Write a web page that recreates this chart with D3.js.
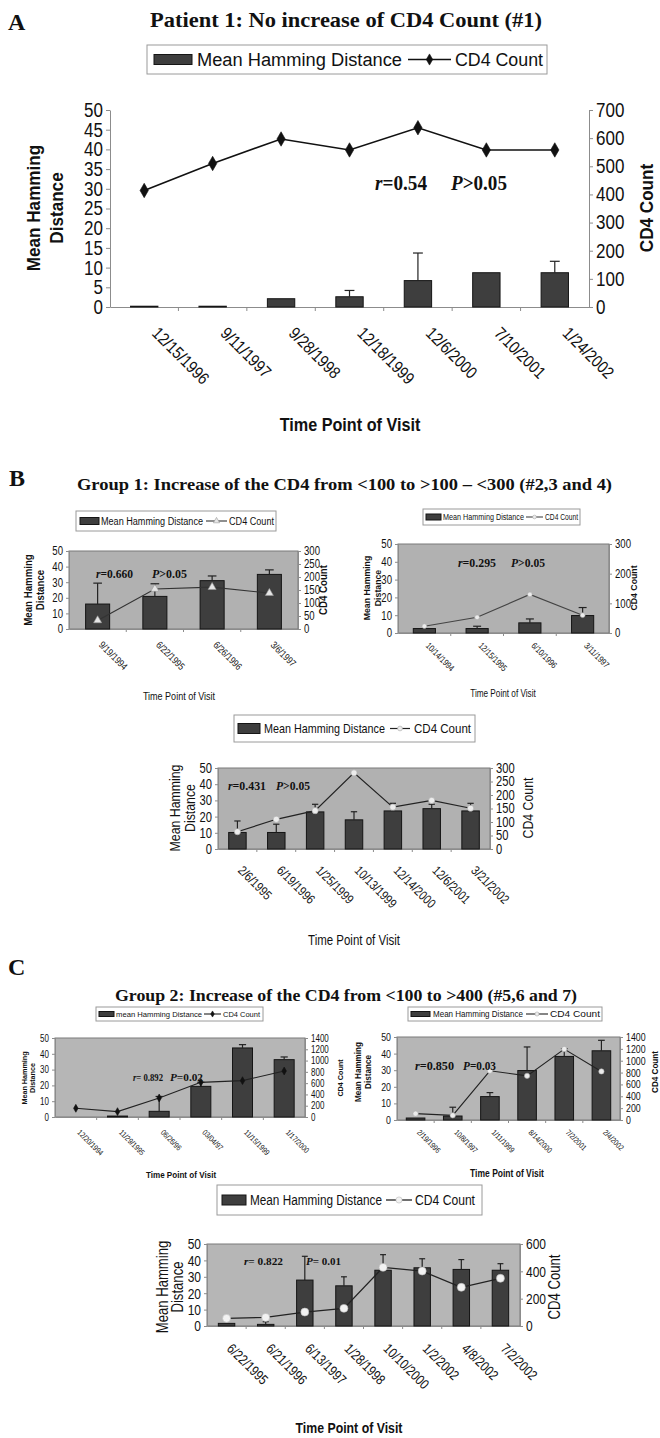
<!DOCTYPE html>
<html>
<head>
<meta charset="utf-8">
<script src="https://cdn.jsdelivr.net/npm/d3@7"></script>
<style>
  body { margin: 0; background: #fff; }
  svg { display: block; }
</style>
</head>
<body>
<svg id="fig" width="660" height="1438"></svg>
<script>
// ---- data ----
// A: patient 1
const datesA = ['12/15/1996', '9/11/1997', '9/28/1998', '12/18/1999', '12/6/2000', '7/10/2001', '1/24/2002'];
const hdA = [0.2, 0.2, 2.1, 2.6, 6.7, 8.7, 8.7];
const errA = [0, 0, 0, 1.6, 7.0, 0, 2.9];
const cd4A = [414, 510, 597, 558, 637, 558, 558];

// B: group 1 (patients 2, 3, 4)
const datesB1 = ['9/19/1994', '6/22/1995', '6/26/1996', '3/6/1997'];
const hdB1 = [16, 20.9, 31, 35];
const errB1 = [13.4, 8.1, 3, 2.9];
const cd4B1 = [33, 154, 161, 138];

const datesB2 = ['10/14/1994', '12/15/1995', '6/10/1996', '3/11/1997'];
const hdB2 = [2.5, 2.5, 5.7, 9.8];
const errB2 = [0, 1.3, 2.2, 4.5];
const cd4B2 = [23, 53, 130, 60];

const datesB3 = ['2/6/1995', '6/19/1996', '1/25/1999', '10/13/1999', '12/14/2000', '12/6/2001', '3/21/2002'];
const hdB3 = [10.2, 10.2, 22.9, 18, 23.5, 24.9, 23.5];
const errB3 = [7.1, 5.1, 4.7, 5, 4.7, 2.7, 4.7];
const cd4B3 = [64, 110, 142, 282, 155, 180, 151];

// C: group 2 (patients 5, 6, 7)
const datesC1 = ['12/20/1994', '11/29/1995', '06/26/96', '03/04/97', '11/15/1999', '1/17/2000'];
const hdC1 = [0, 0.6, 3.6, 19.4, 43.7, 36.3];
const errC1 = [0, 0, 9.4, 2.6, 2.1, 1.7];
const cd4C1 = [154, 95, 337, 614, 644, 815];

const datesC2 = ['2/19/1996', '10/8/1997', '1/11/1999', '8/14/2000', '7/2/2001', '2/4/2002'];
const hdC2 = [1.2, 2.4, 14.1, 29.8, 38.3, 41.7];
const errC2 = [0, 5.3, 2.4, 14.2, 4.7, 6.3];
const cd4C2 = [107, 79, 830, 745, 1197, 819];

const datesC3 = ['6/22/1995', '6/21/1996', '6/13/1997', '1/28/1998', '10/10/2000', '1/2/2002', '4/8/2002', '7/2/2002'];
const hdC3 = [1.6, 1.0, 28, 24.5, 34, 35.5, 34.5, 34];
const errC3 = [0, 1.6, 14.5, 5.5, 9.5, 5.5, 6, 4];
const cd4C3 = [56, 63, 102, 129, 429, 402, 283, 349];

// ---- drawing ----
const SERIF = '"Liberation Serif", "Times New Roman", serif';
const SANS = '"Liberation Sans", Arial, sans-serif';

const svg = d3.select('#fig');

// narrow the text the way Arial Narrow would look
function squeeze(sel, k) {
    sel.each(function () {
        const w = this.getComputedTextLength();
        if (w > 0) d3.select(this).attr('textLength', w * k).attr('lengthAdjust', 'spacingAndGlyphs');
    });
    return sel;
}
function fit(sel, w) {
    return sel.attr('textLength', w).attr('lengthAdjust', 'spacingAndGlyphs');
}

function label(x, y, txt, size, anchor) {
    return svg.append('text')
        .attr('x', x).attr('y', y)
        .attr('font-family', SERIF).attr('font-size', size).attr('font-weight', 'bold')
        .attr('text-anchor', anchor || 'start').attr('fill', '#111')
        .text(txt);
}

function markerPath(shape, size) {
    const t = shape === 'diamond' ? d3.symbolDiamond : shape === 'triangle' ? d3.symbolTriangle : d3.symbolCircle;
    return d3.symbol().type(t).size(size)();
}

function drawPanel(p) {
    const g = svg.append('g');
    const x = d3.scaleBand().domain(p.dates).range([p.left, p.right]);
    const yL = d3.scaleLinear().domain([0, p.lMax]).range([p.bottom, p.top]);
    const yR = d3.scaleLinear().domain([0, p.rMax]).range([p.bottom, p.top]);
    const cx = d => x(d) + x.bandwidth() / 2;
    const bw = x.bandwidth() * p.barFrac;
    const rows = p.dates.map((d, i) => ({ d, v: p.hd[i], e: p.err[i], c: p.cd4[i] }));

    if (p.bg) {
        g.append('rect')
            .attr('x', p.left).attr('y', p.top)
            .attr('width', p.right - p.left).attr('height', p.bottom - p.top)
            .attr('fill', p.bg).attr('stroke', '#7a7a7a').attr('stroke-width', 1);
    }

    const fmt = d3.format('d');
    const axL = g.append('g').attr('transform', `translate(${p.left},0)`)
        .call(d3.axisLeft(yL).tickValues(d3.range(0, p.lMax + 1, p.lStep)).tickFormat(fmt)
            .tickSize(p.tick).tickSizeOuter(0).tickPadding(p.pad));
    const axR = g.append('g').attr('transform', `translate(${p.right},0)`)
        .call(d3.axisRight(yR).tickValues(d3.range(0, p.rMax + 1, p.rStep)).tickFormat(fmt)
            .tickSize(p.tick).tickSizeOuter(0).tickPadding(p.pad));
    const axB = g.append('g').attr('transform', `translate(0,${p.bottom})`)
        .call(d3.axisBottom(x).tickSize(0).tickSizeOuter(0).tickFormat(''));
    [axL, axR, axB].forEach(a => {
        a.selectAll('path, line').attr('stroke', '#8c8c8c');
        squeeze(a.selectAll('text').attr('font-family', SANS).attr('font-size', p.tickFont).attr('fill', '#111'), p.tickK);
    });
    g.selectAll('.bt').data(p.dates.slice(1)).join('line')
        .attr('x1', d => x(d)).attr('x2', d => x(d))
        .attr('y1', p.bottom).attr('y2', p.bottom + p.tick)
        .attr('stroke', '#8c8c8c');

    // bars
    g.selectAll('.bar').data(rows).join('rect')
        .attr('x', r => cx(r.d) - bw / 2).attr('width', bw)
        .attr('y', r => yL(r.v)).attr('height', r => p.bottom - yL(r.v))
        .attr('fill', '#3e3e3e').attr('stroke', '#151515').attr('stroke-width', 1);

    // error bars (plus only)
    const eb = rows.filter(r => r.e > 0);
    g.selectAll('.ev').data(eb).join('line')
        .attr('x1', r => cx(r.d)).attr('x2', r => cx(r.d))
        .attr('y1', r => yL(r.v)).attr('y2', r => yL(r.v + r.e))
        .attr('stroke', '#222').attr('stroke-width', 1.2);
    g.selectAll('.ec').data(eb).join('line')
        .attr('x1', r => cx(r.d) - bw * 0.18).attr('x2', r => cx(r.d) + bw * 0.18)
        .attr('y1', r => yL(r.v + r.e)).attr('y2', r => yL(r.v + r.e))
        .attr('stroke', '#222').attr('stroke-width', 1.2);

    // CD4 line
    g.append('path').datum(rows)
        .attr('d', d3.line().x(r => cx(r.d)).y(r => yR(r.c)))
        .attr('fill', 'none').attr('stroke', p.lineColor).attr('stroke-width', p.lineW);
    g.selectAll('.mk').data(rows).join('path')
        .attr('transform', r => `translate(${cx(r.d)},${yR(r.c)})`)
        .attr('d', markerPath(p.marker, p.markerSize))
        .attr('fill', p.markerFill).attr('stroke', p.markerStroke).attr('stroke-width', 0.6);

    // rotated date labels
    squeeze(g.selectAll('.dl').data(p.dates).join('text')
        .attr('transform', d => `translate(${cx(d) + p.dateDx},${p.dateTop}) rotate(45)`)
        .attr('dy', '0.35em')
        .attr('font-family', SANS).attr('font-size', p.dateFont).attr('fill', '#111')
        .text(d => d), p.dateK);

    // axis titles
    const yt = p.yTitle;
    const rot = (xp, t) => g.append('text')
        .attr('transform', `translate(${xp},${yt.y}) rotate(-90)`)
        .attr('dy', '0.35em').attr('text-anchor', 'middle')
        .attr('font-family', SANS).attr('font-weight', yt.weight)
        .attr('font-size', yt.size).attr('fill', '#111')
        .text(t);
    squeeze(rot(yt.xs[0], 'Mean Hamming'), yt.k);
    squeeze(rot(yt.xs[1], 'Distance'), yt.k);
    squeeze(rot(p.rTitle.x, 'CD4 Count'), yt.k);
    squeeze(g.append('text')
        .attr('x', p.xTitle.x).attr('y', p.xTitle.y).attr('text-anchor', 'middle')
        .attr('font-family', SANS).attr('font-weight', p.xTitle.weight)
        .attr('font-size', p.xTitle.size).attr('fill', '#111')
        .text('Time Point of Visit'), p.xTitle.k);

    // correlation
    const s = p.stat;
    const st = g.append('text').attr('x', s.rx).attr('y', s.y)
        .attr('font-family', SERIF).attr('font-weight', 'bold').attr('font-size', s.size).attr('fill', '#111');
    st.append('tspan').attr('font-style', 'italic').text('r');
    st.append('tspan').text(s.r);
    fit(st, s.rw);
    const sp = g.append('text').attr('x', s.px).attr('y', s.y)
        .attr('font-family', SERIF).attr('font-weight', 'bold').attr('font-size', s.size).attr('fill', '#111');
    sp.append('tspan').attr('font-style', 'italic').text('P');
    sp.append('tspan').text(s.p);
    fit(sp, s.pw);

    // legend
    const L = p.legend;
    const my = L.y + L.h / 2;
    g.append('rect').attr('x', L.x).attr('y', L.y).attr('width', L.w).attr('height', L.h)
        .attr('fill', '#fff').attr('stroke', '#9a9a9a');
    g.append('rect').attr('x', L.sw[0]).attr('y', my - L.sh / 2)
        .attr('width', L.sw[1] - L.sw[0]).attr('height', L.sh)
        .attr('fill', '#3e3e3e').attr('stroke', '#151515');
    fit(g.append('text').attr('x', L.t1[0]).attr('y', my).attr('dy', '0.35em')
        .attr('font-family', SANS).attr('font-size', L.size).attr('fill', '#111')
        .text(L.label), L.t1[1]);
    g.append('line').attr('x1', L.ln[0]).attr('x2', L.ln[1]).attr('y1', my).attr('y2', my)
        .attr('stroke', p.lineColor).attr('stroke-width', p.lineW);
    g.append('path').attr('transform', `translate(${(L.ln[0] + L.ln[1]) / 2},${my})`)
        .attr('d', markerPath(p.marker, p.markerSize * 0.6))
        .attr('fill', p.markerFill).attr('stroke', p.markerStroke).attr('stroke-width', 0.6);
    fit(g.append('text').attr('x', L.t2[0]).attr('y', my).attr('dy', '0.35em')
        .attr('font-family', SANS).attr('font-size', L.size).attr('fill', '#111')
        .text('CD4 Count'), L.t2[1]);
}

// ---- panel letters and titles ----
label(8, 30, 'A', 24);
fit(label(346, 27, 'Patient 1: No increase of CD4 Count (#1)', 21, 'middle'), 392);
label(9, 486, 'B', 24);
fit(label(77, 490, 'Group 1:  Increase of the CD4 from <100 to >100 \u2013 <300 (#2,3 and 4)', 17), 535);
label(8, 975, 'C', 24);
fit(label(346, 1001, 'Group 2:  Increase of the CD4 from <100 to >400 (#5,6 and 7)', 17, 'middle'), 462);

const panels = [
    {
        dates: datesA, hd: hdA, err: errA, cd4: cd4A,
        left: 110, right: 589, top: 110, bottom: 307, bg: null,
        lMax: 50, lStep: 5, rMax: 700, rStep: 100, tick: 4, pad: 3, tickFont: 20, tickK: 0.85,
        barFrac: 0.4, lineColor: '#111', lineW: 1.6,
        marker: 'diamond', markerSize: 60, markerFill: '#111', markerStroke: '#111',
        dateTop: 330, dateDx: 11, dateFont: 17, dateK: 0.85,
        yTitle: { xs: [33, 56], y: 208, size: 19, weight: 'bold', k: 0.9 },
        rTitle: { x: 646 },
        xTitle: { x: 350, y: 431, size: 18, weight: 'bold', k: 0.9 },
        stat: { rx: 375, px: 451, y: 190, size: 20, r: '=0.54', p: '>0.05', rw: 52, pw: 56 },
        legend: { x: 147, y: 45, w: 400, h: 29, sw: [154, 192], sh: 10, t1: [197, 205], ln: [408, 451], t2: [455, 88], size: 18, label: 'Mean Hamming Distance' }
    },
    {
        dates: datesB1, hd: hdB1, err: errB1, cd4: cd4B1,
        left: 69, right: 298, top: 551, bottom: 629, bg: '#b1b1b1',
        lMax: 50, lStep: 10, rMax: 300, rStep: 50, tick: 3, pad: 3, tickFont: 12, tickK: 0.8,
        barFrac: 0.42, lineColor: '#333', lineW: 1.1,
        marker: 'triangle', markerSize: 28, markerFill: '#e6e6e6', markerStroke: '#999',
        dateTop: 643, dateDx: 3, dateFont: 10, dateK: 0.8,
        yTitle: { xs: [28, 40], y: 590, size: 10.5, weight: 'bold', k: 0.92 },
        rTitle: { x: 323 },
        xTitle: { x: 179, y: 700, size: 11, weight: 'normal', k: 0.82 },
        stat: { rx: 96, px: 152, y: 578, size: 13, r: '=0.660', p: '>0.05', rw: 37, pw: 35 },
        legend: { x: 76, y: 511, w: 200, h: 20, sw: [80, 99], sh: 7, t1: [101, 102], ln: [206, 227], t2: [229, 45], size: 10, label: 'Mean Hamming Distance' }
    },
    {
        dates: datesB2, hd: hdB2, err: errB2, cd4: cd4B2,
        left: 398, right: 609, top: 544, bottom: 633, bg: '#b1b1b1',
        lMax: 50, lStep: 10, rMax: 300, rStep: 100, tick: 3, pad: 3, tickFont: 12, tickK: 0.8,
        barFrac: 0.42, lineColor: '#444', lineW: 1.1,
        marker: 'circle', markerSize: 18, markerFill: '#ececec', markerStroke: '#aaa',
        dateTop: 644, dateDx: 3, dateFont: 9, dateK: 0.8,
        yTitle: { xs: [367, 378], y: 588, size: 9.5, weight: 'bold', k: 0.92 },
        rTitle: { x: 634 },
        xTitle: { x: 503, y: 697, size: 10, weight: 'normal', k: 0.82 },
        stat: { rx: 458, px: 511, y: 567, size: 13, r: '=0.295', p: '>0.05', rw: 38, pw: 34 },
        legend: { x: 423, y: 509, w: 157, h: 16, sw: [426, 441], sh: 6, t1: [443, 81], ln: [526, 543], t2: [545, 33], size: 8.5, label: 'Mean Hamming Distance' }
    },
    {
        dates: datesB3, hd: hdB3, err: errB3, cd4: cd4B3,
        left: 218, right: 490, top: 768, bottom: 849, bg: '#b1b1b1',
        lMax: 50, lStep: 10, rMax: 300, rStep: 50, tick: 3, pad: 3, tickFont: 14, tickK: 0.8,
        barFrac: 0.45, lineColor: '#222', lineW: 1.2,
        marker: 'circle', markerSize: 30, markerFill: '#ececec', markerStroke: '#aaa',
        dateTop: 868, dateDx: 3, dateFont: 13, dateK: 0.82,
        yTitle: { xs: [175, 190], y: 808, size: 15, weight: 'normal', k: 0.82 },
        rTitle: { x: 528 },
        xTitle: { x: 354, y: 945, size: 14, weight: 'normal', k: 0.82 },
        stat: { rx: 228, px: 276, y: 790, size: 12, r: '=0.431', p: '>0.05', rw: 38, pw: 34 },
        legend: { x: 234, y: 715, w: 241, h: 27, sw: [238, 260], sh: 10, t1: [264, 121], ln: [390, 410], t2: [414, 57], size: 13, label: 'Mean Hamming Distance' }
    },
    {
        dates: datesC1, hd: hdC1, err: errC1, cd4: cd4C1,
        left: 55, right: 305, top: 1038, bottom: 1117, bg: '#b6b6b6',
        lMax: 50, lStep: 10, rMax: 1400, rStep: 200, tick: 3, pad: 3, tickFont: 10, tickK: 0.8,
        barFrac: 0.48, lineColor: '#222', lineW: 1.1,
        marker: 'diamond', markerSize: 18, markerFill: '#111', markerStroke: '#111',
        dateTop: 1131, dateDx: 3, dateFont: 8, dateK: 0.82,
        yTitle: { xs: [24, 32], y: 1078, size: 8, weight: 'bold', k: 0.9 },
        rTitle: { x: 340 },
        xTitle: { x: 181, y: 1178, size: 9.5, weight: 'bold', k: 0.85 },
        stat: { rx: 133, px: 170, y: 1081, size: 11, r: '= 0.892', p: '=0.02', rw: 30, pw: 33 },
        legend: { x: 96, y: 1007, w: 167, h: 14, sw: [99, 114], sh: 5, t1: [116, 86], ln: [204, 221], t2: [223, 37], size: 8, label: 'mean Hamming Distance' }
    },
    {
        dates: datesC2, hd: hdC2, err: errC2, cd4: cd4C2,
        left: 397, right: 620, top: 1037, bottom: 1120, bg: '#b6b6b6',
        lMax: 50, lStep: 10, rMax: 1400, rStep: 200, tick: 3, pad: 3, tickFont: 11, tickK: 0.8,
        barFrac: 0.5, lineColor: '#222', lineW: 1.1,
        marker: 'circle', markerSize: 22, markerFill: '#ececec', markerStroke: '#aaa',
        dateTop: 1131, dateDx: 3, dateFont: 8, dateK: 0.82,
        yTitle: { xs: [358, 368], y: 1072, size: 9, weight: 'bold', k: 0.9 },
        rTitle: { x: 655 },
        xTitle: { x: 507, y: 1177, size: 10, weight: 'bold', k: 0.85 },
        stat: { rx: 415, px: 463, y: 1070, size: 12, r: '=0.850', p: '=0.03', rw: 39, pw: 33 },
        legend: { x: 408, y: 1007, w: 194, h: 14, sw: [411, 430], sh: 5, t1: [433, 90], ln: [526, 548], t2: [550, 50], size: 9, label: 'Mean Hamming Distance' }
    },
    {
        dates: datesC3, hd: hdC3, err: errC3, cd4: cd4C3,
        left: 207, right: 520, top: 1244, bottom: 1326, bg: '#b6b6b6',
        lMax: 50, lStep: 10, rMax: 600, rStep: 200, tick: 3, pad: 3, tickFont: 15, tickK: 0.8,
        barFrac: 0.42, lineColor: '#222', lineW: 1.3,
        marker: 'circle', markerSize: 50, markerFill: '#f2f2f2', markerStroke: '#bbb',
        dateTop: 1346, dateDx: 3, dateFont: 14, dateK: 0.82,
        yTitle: { xs: [162, 177], y: 1287, size: 16, weight: 'normal', k: 0.82 },
        rTitle: { x: 554 },
        xTitle: { x: 349, y: 1433, size: 15, weight: 'bold', k: 0.82 },
        stat: { rx: 244, px: 306, y: 1265, size: 11, r: '= 0.822', p: '= 0.01', rw: 39, pw: 35 },
        legend: { x: 217, y: 1185, w: 265, h: 30, sw: [222, 246], sh: 10, t1: [250, 132], ln: [386, 412], t2: [415, 60], size: 14, label: 'Mean Hamming Distance' }
    }
];

panels.forEach(drawPanel);
</script>
</body>
</html>
